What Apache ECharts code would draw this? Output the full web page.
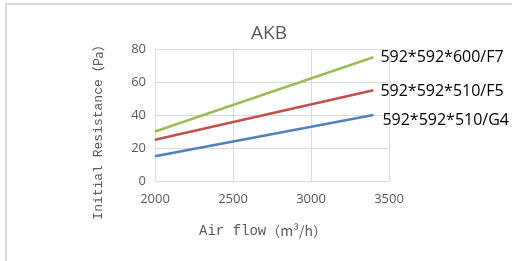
<!DOCTYPE html>
<html>
<head>
<meta charset="utf-8">
<script src="https://cdn.jsdelivr.net/npm/echarts@6/dist/echarts.min.js"></script>
<style>
  html, body { margin: 0; padding: 0; background: #fff; }
  #chart { width: 512px; height: 261px; }
</style>
</head>
<body>
<div id="chart"></div>
<script>
  // air flow (m3/h) and initial resistance (Pa) per filter type
  var airFlow = [2000, 3400];
  var seriesNames = ['592*592*600/F7', '592*592*510/F5', '592*592*510/G4'];
  var f7 = [30, 75];
  var f5 = [25, 55];
  var g4 = [15, 40];
  var xTicks = [2000, 2500, 3000, 3500];
  var yTicks = [0, 20, 40, 60, 80];

  function pairs(vals) {
    return airFlow.map(function (x, i) { return [x, vals[i]]; });
  }

  var colors = ['#9bbb59', '#c0504d', '#4f81bd'];
  var values = [f7, f5, g4];
  var labelOffsets = [[0, 0], [0, 1], [2, 5]];

  var myEchart = echarts.init(document.getElementById('chart'));
  var option = {
    animation: false,
    title: {
      text: 'AKB',
      left: 264,
      top: 19,
      textAlign: 'center',
      textStyle: { color: '#595959', fontSize: 19, fontWeight: 'normal', fontFamily: 'Open Sans' }
    },
    graphic: [{
      type: 'rect',
      shape: { x: 6, y: 4, width: 600, height: 300 },
      style: { fill: 'none', stroke: '#d9d9d9', lineWidth: 2 }
    }],
    grid: { left: 155, right: 123, top: 49, bottom: 80 },
    xAxis: {
      type: 'value',
      min: xTicks[0],
      max: xTicks[xTicks.length - 1],
      interval: 500,
      name: '{a|Air flow}{b|（m³/h）}',
      nameLocation: 'middle',
      nameGap: 43,
      nameTextStyle: {
        padding: [0, 18, 0, 0],
        rich: {
          a: { fontFamily: 'Liberation Mono', fontSize: 14, color: '#595959' },
          b: { fontFamily: 'Noto Sans CJK SC', fontSize: 14, color: '#595959' }
        }
      },
      axisTick: { show: false },
      axisLine: { lineStyle: { color: '#d9d9d9', width: 1 } },
      splitLine: { show: true, lineStyle: { color: '#d9d9d9', width: 1 } },
      axisLabel: {
        color: '#595959', fontSize: 13, margin: 12, fontFamily: 'Open Sans',
        formatter: function (v) { return String(v); }
      }
    },
    yAxis: {
      type: 'value',
      min: yTicks[0],
      max: yTicks[yTicks.length - 1],
      interval: 20,
      name: '{a|Initial Resistance}{b|（Pa）}',
      nameLocation: 'middle',
      nameGap: 50,
      nameTextStyle: {
        padding: [0, 28, 0, 0],
        rich: {
          a: { fontFamily: 'Liberation Mono', fontSize: 13, color: '#595959' },
          b: { fontFamily: 'Noto Sans CJK SC', fontSize: 13, color: '#595959' }
        }
      },
      axisTick: { show: false },
      axisLine: { show: true, lineStyle: { color: '#d9d9d9', width: 1 } },
      splitLine: { show: true, lineStyle: { color: '#d9d9d9', width: 1 } },
      axisLabel: { color: '#595959', fontSize: 13, margin: 9, fontFamily: 'Open Sans' }
    },
    series: seriesNames.map(function (name, i) {
      return {
        name: name,
        type: 'line',
        data: pairs(values[i]),
        symbol: 'none',
        lineStyle: { color: colors[i], width: 2.5 },
        endLabel: {
          show: true,
          formatter: '{a}',
          distance: 7,
          offset: labelOffsets[i],
          color: '#000',
          fontSize: 16,
          fontFamily: 'Open Sans'
        }
      };
    })
  };
  myEchart.setOption(option);
</script>
</body>
</html>
